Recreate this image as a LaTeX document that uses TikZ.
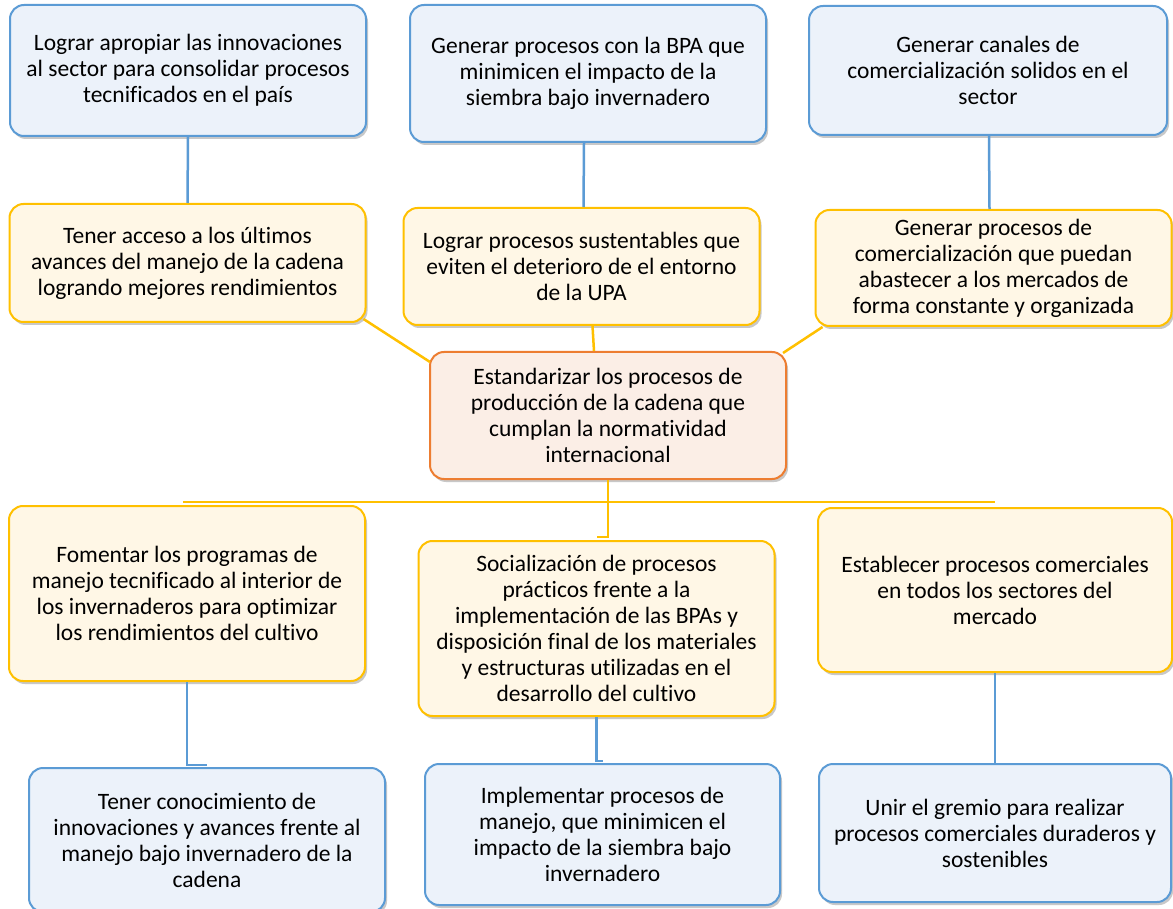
\documentclass[tikz,border=0pt]{standalone}
\usepackage{fontspec}
\setmainfont{Carlito}[Ligatures=NoCommon]
\usetikzlibrary{shadows,calc}
\definecolor{bluebd}{HTML}{5B9BD5}
\definecolor{bluefill}{HTML}{ECF2FA}
\definecolor{yelbd}{HTML}{FFC000}
\definecolor{yelfill}{HTML}{FFF7E6}
\definecolor{orgbd}{HTML}{ED7D31}
\definecolor{orgfill}{HTML}{FBEEE6}
\begin{document}
\begin{tikzpicture}[x=1pt,y=-1pt,
  box/.style={rectangle, rounded corners=14pt, line width=2pt, align=center, inner sep=4pt,
    minimum width=356pt, font=\fontsize{23.5}{26}\selectfont, text=black,
    drop shadow={shadow xshift=2pt,shadow yshift=-3pt,opacity=0.3,fill=black!70}},
  bluebox/.style={box, draw=bluebd, fill=bluefill},
  yelbox/.style={box, draw=yelbd, fill=yelfill},
  orgbox/.style={box, draw=orgbd, fill=orgfill},
  blueline/.style={draw=bluebd, line width=2.5pt},
  yelline/.style={draw=yelbd, line width=2.5pt}]
\fill[white] (0,0) rectangle (1173,909);
\useasboundingbox (0,0) rectangle (1173,909);

% top row
\node[bluebox, minimum height=131pt] (b1) at (188,70.5) {Lograr apropiar las innovaciones\\al sector para consolidar procesos\\tecnificados en el país};
\node[bluebox, minimum height=137pt] (b2) at (588,73.5) {Generar procesos con la BPA que\\minimicen el impacto de la\\siembra bajo invernadero};
\node[bluebox, minimum height=129pt, minimum width=358pt] (b3) at (988,70.5) {Generar canales de\\comercialización solidos en el\\sector};

% second row
\node[yelbox, minimum height=118pt] (b4) at (187.5,263) {Tener acceso a los últimos\\avances del manejo de la cadena\\logrando mejores rendimientos};
\node[yelbox, minimum height=117pt] (b5) at (581.5,266.5) {Lograr procesos sustentables que\\eviten el deterioro de el entorno\\de la UPA};
\node[yelbox, minimum height=116pt] (b6) at (993.5,268) {Generar procesos de\\comercialización que puedan\\abastecer a los mercados de\\forma constante y organizada};

% center
\node[orgbox, minimum height=127pt] (c) at (608,415.5) {Estandarizar los procesos de\\producción de la cadena que\\cumplan la normatividad\\internacional};

% third row
\node[yelbox, minimum height=175pt] (b7) at (187,593.5) {Fomentar los programas de\\manejo tecnificado al interior de\\los invernaderos para optimizar\\los rendimientos del cultivo};
\node[yelbox, minimum height=175pt] (b8) at (596.5,628.5) {Socialización de procesos\\prácticos frente a la\\implementación de las BPAs y\\disposición final de los materiales\\y estructuras utilizadas en el\\desarrollo del cultivo};
\node[yelbox, minimum height=164pt, minimum width=354pt] (b9) at (995,590) {Establecer procesos comerciales\\en todos los sectores del\\mercado};

% bottom row
\node[bluebox, minimum height=144pt] (b10) at (207,840) {Tener conocimiento de\\innovaciones y avances frente al\\manejo bajo invernadero de la\\cadena};
\node[bluebox, minimum height=141pt, minimum width=355pt] (b11) at (602.5,834.5) {Implementar procesos de\\manejo, que minimicen el\\impacto de la siembra bajo\\invernadero};
\node[bluebox, minimum height=138pt, minimum width=352pt] (b12) at (995,833) {Unir el gremio para realizar\\procesos comerciales duraderos y\\sostenibles};

% connectors top
\draw[blueline] (b1.south) -- (b4.north);
\draw[blueline] ($(b2.south)+(-4,0)$) -- ($(b5.north)+(2,0)$);
\draw[blueline] ($(b3.south)+(1,0)$) -- ($(b6.north)+(-4,0)$);

% connectors to center
\draw[yelline] ($(b4.south east)+(-3,-4)$) -- ($(c.north west)+(1,11)$);
\draw[yelline] ($(b5.south)+(11,0)$) -- ($(c.north)+(-14,0)$);
\draw[yelline] ($(b6.south west)+(8,0)$) -- ($(c.north east)+(-4,2)$);

% bus below center
\coordinate (busL) at (183,502);
\coordinate (busR) at (995,502);
\draw[yelline] (busL) -- (busR);
\draw[yelline] (c.south) |- ($(b8.north)+(0,-3)$);

% connectors bottom
\draw[blueline] (b7.south) |- ($(b10.north)+(0,-2)$);
\draw[blueline] (b8.south) |- ($(b11.north)+(0,-2)$);
\draw[blueline] (b9.south) -- (b12.north);
\end{tikzpicture}
\end{document}
